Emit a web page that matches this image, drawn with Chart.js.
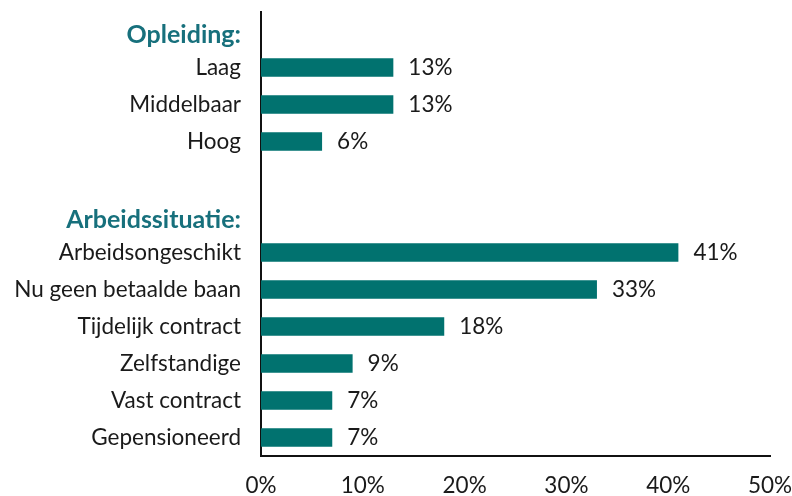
<!DOCTYPE html>
<html>
<head>
<meta charset="utf-8">
<script src="https://cdn.jsdelivr.net/npm/chart.js@4/dist/chart.umd.min.js"></script>
<style>
  html, body { margin: 0; padding: 0; background: #fff; }
  #wrap { width: 792px; height: 496px; }
</style>
</head>
<body>
<div id="wrap"><canvas id="chart"></canvas></div>
<script>
// categorieën (kopjes en lege regel hebben geen waarde)
const categories = [
  'Opleiding:', 'Laag', 'Middelbaar', 'Hoog', '',
  'Arbeidssituatie:', 'Arbeidsongeschikt', 'Nu geen betaalde baan',
  'Tijdelijk contract', 'Zelfstandige', 'Vast contract', 'Gepensioneerd'
];
const headers = ['Opleiding:', 'Arbeidssituatie:'];
const percentages = [null, 13, 13, 6, null, null, 41, 33, 18, 9, 7, 7];
const xTicks = [0, 10, 20, 30, 40, 50];

const BAR_COLOR = '#01726f';
const HEADER_COLOR = '#17707c';
const TEXT_COLOR = '#1a1a1a';
const FONT = 'Lato';

// waardelabels rechts naast de balken
const valueLabels = {
  id: 'valueLabels',
  afterDatasetsDraw(chart) {
    const ctx = chart.ctx;
    const meta = chart.getDatasetMeta(0);
    ctx.save();
    ctx.font = '22.5px ' + FONT;
    ctx.fillStyle = TEXT_COLOR;
    ctx.textAlign = 'left';
    ctx.textBaseline = 'middle';
    meta.data.forEach((bar, i) => {
      const v = percentages[i];
      if (v === null) return;
      ctx.fillText(v + '%', bar.x + 15, bar.y);
    });
    ctx.restore();
  }
};

const isHeader = idx => headers.includes(categories[idx]);

new Chart(document.getElementById('chart'), {
  type: 'bar',
  data: {
    labels: categories,
    datasets: [{
      data: percentages,
      backgroundColor: BAR_COLOR,
      borderWidth: 0,
      categoryPercentage: 1,
      barPercentage: 0.5
    }]
  },
  options: {
    indexAxis: 'y',
    responsive: true,
    maintainAspectRatio: false,
    animation: false,
    layout: { padding: { top: 12, right: 22, bottom: 0, left: 0 } },
    plugins: {
      legend: { display: false },
      tooltip: { enabled: false }
    },
    scales: {
      x: {
        min: 0,
        max: 50,
        afterBuildTicks: scale => {
          scale.ticks = xTicks.map(v => ({ value: v }));
        },
        // vaste hoogte, geen extra ruimte voor overhangende labels
        afterFit: scale => {
          scale.height = 40;
          scale.paddingLeft = 0;
          scale.paddingRight = 0;
        },
        grid: { display: false, drawTicks: false },
        border: { display: true, color: '#111', width: 2 },
        ticks: {
          padding: 16,
          color: TEXT_COLOR,
          font: { family: FONT, size: 22.5 },
          callback: v => v + '%'
        }
      },
      y: {
        afterFit: scale => {
          scale.width = 261;
          scale.paddingTop = 0;
          scale.paddingBottom = 0;
        },
        grid: { display: false, drawTicks: false },
        border: { display: true, color: '#111', width: 2 },
        ticks: {
          padding: 20,
          autoSkip: false,
          // kopjes iets lager: lege eerste regel met kleine regelhoogte
          callback: function(v, i) {
            const label = this.getLabelForValue(v);
            return isHeader(i) ? ['', label] : label;
          },
          color: c => isHeader(c.index) ? HEADER_COLOR : TEXT_COLOR,
          font: c => isHeader(c.index)
            ? { family: FONT, size: 25, weight: 'bold', lineHeight: 0.32 }
            : { family: FONT, size: 22.5 }
        }
      }
    }
  },
  plugins: [valueLabels]
});
</script>
</body>
</html>
